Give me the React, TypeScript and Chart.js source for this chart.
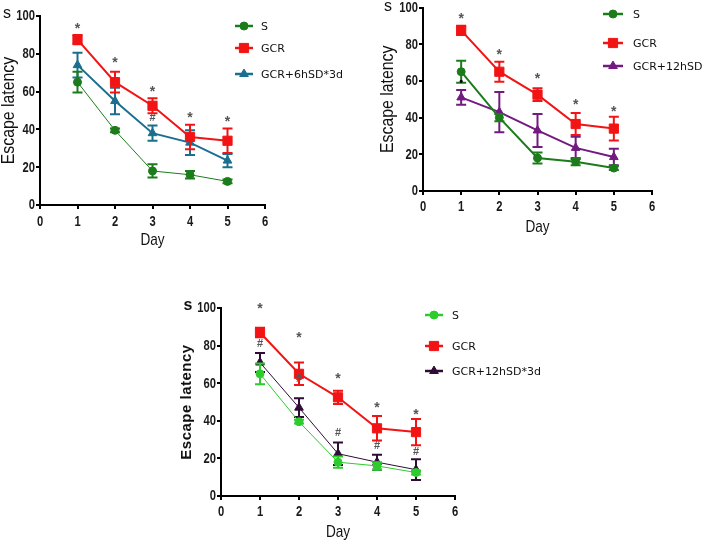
import React, { useEffect, useRef } from "react";
import { Chart, registerables } from "chart.js";
import { drawPoint } from "chart.js/helpers";

Chart.register(...registerables);

// ---------- data ----------
const days = [1, 2, 3, 4, 5];
const seriesNames1 = ["S", "GCR", "GCR+6hSD*3d"];
const seriesNames2 = ["S", "GCR", "GCR+12hSD"];
const seriesNames3 = ["S", "GCR", "GCR+12hSD*3d"];

// panel 1 (top-left)
const p1S = [65, 39.5, 18, 16, 12.5];
const p1SErr = [5.5, 1, 3.5, 2, 1];
const p1GCR = [87.5, 65, 52.5, 36, 34];
const p1GCRErr = [2.5, 5.5, 4, 6.5, 6.5];
const p1SD = [74, 55, 38, 33, 23.5];
const p1SDErr = [6.5, 7, 4, 6.5, 3.5];
const p1Star = [94, 76, 61, 47, 45];
const p1HashDays = [3];
const p1Hash = [46];

// panel 2 (top-right)
const p2S = [65, 40, 18, 16, 12.5];
const p2SErr = [6, 2, 3, 2, 1];
const p2GCR = [87.5, 65, 52.5, 36.5, 34];
const p2GCRErr = [2.5, 5.5, 3.5, 6, 6.5];
const p2SD = [51, 43, 33, 23.5, 18.5];
const p2SDErr = [4, 11, 9, 6, 4.5];
const p2Star = [95, 75, 62, 48, 44];
const p2DotDays = [1];
const p2Dot = [59.5];

// panel 3 (bottom)
const p3S = [65, 39.5, 18, 16, 12.5];
const p3SErr = [5.5, 1, 3, 2, 1];
const p3GCR = [87, 65, 52.5, 36, 34];
const p3GCRErr = [2.5, 6, 3.5, 6.5, 7];
const p3SD = [71, 47, 22.5, 18, 14];
const p3SDErr = [5, 5, 6, 4, 5.5];
const p3Star = [100.5, 85, 63, 48, 44];
const p3Hash = [81, 62, 33.5, 26.5, 23.5];

const xTickMin = 0;
const xTickMax = 6;
const yTickMin = 0;
const yTickMax = 100;
const yTickStep = 20;

// ---------- helpers ----------
const SANS = "'Liberation Sans', Arial, sans-serif";
const LEG = "'DejaVu Sans', 'Liberation Sans', sans-serif";

type Mark = { x: number; y: number; text: string; color?: string };
type Spec = {
  left: number; top: number; width: number; height: number;
  pad: { top: number; right: number; left: number };
  yWidth: number; xHeight: number;
  series: { label: string; values: number[]; errors: number[]; color: string; style: string; radius: number; lw: number }[];
  marks: Mark[];
  legend: { x0: number; x1: number; tx: number; ys: number[] };
  yTitleX: number; xTitleY: number; sX: number; sY: number; titleBold: boolean; xLabelOff: number;
};

function narrowText(ctx: CanvasRenderingContext2D, text: string, x: number, y: number, sx: number) {
  ctx.save();
  ctx.translate(x, y);
  ctx.scale(sx, 1);
  ctx.fillText(text, 0, 0);
  ctx.restore();
}

const figurePlugin = {
  id: "figure",
  afterDatasetDraw(chart: any, args: any) {
    const ds = chart.data.datasets[args.index];
    const yS = chart.scales.y;
    const ctx = chart.ctx;
    ctx.save();
    ctx.strokeStyle = ds.borderColor;
    ctx.lineWidth = 2;
    args.meta.data.forEach((pt: any, i: number) => {
      const v = ds.data[i].y;
      const e = ds.errors[i];
      const yt = yS.getPixelForValue(v + e);
      const yb = yS.getPixelForValue(v - e);
      ctx.beginPath();
      ctx.moveTo(pt.x, yt); ctx.lineTo(pt.x, yb);
      ctx.moveTo(pt.x - 5, yt); ctx.lineTo(pt.x + 5, yt);
      ctx.moveTo(pt.x - 5, yb); ctx.lineTo(pt.x + 5, yb);
      ctx.stroke();
    });
    ctx.restore();
  },
  afterDraw(chart: any, _a: any, opts: any) {
    const spec: Spec = opts.spec;
    const ctx = chart.ctx;
    const ca = chart.chartArea;
    const xS = chart.scales.x, yS = chart.scales.y;
    const ox = spec.left, oy = spec.top;
    ctx.save();
    // tick labels (narrow), positioned by the scales
    ctx.fillStyle = "#1a1a1a";
    ctx.font = `bold 14px ${SANS}`;
    ctx.textBaseline = "middle";
    ctx.textAlign = "right";
    yS.ticks.forEach((t: any) => {
      narrowText(ctx, String(t.value), ca.left - 5, yS.getPixelForValue(t.value) + 0.5, 0.8);
    });
    ctx.textAlign = "center";
    xS.ticks.forEach((t: any) => {
      narrowText(ctx, String(t.value), xS.getPixelForValue(t.value), ca.bottom + spec.xLabelOff, 0.8);
    });
    // marks (* and #)
    spec.marks.forEach((m) => {
      ctx.fillStyle = m.color || "#555";
      ctx.font = m.text === "*" ? `bold 14px ${SANS}` : `bold 11px ${SANS}`;
      ctx.fillText(m.text, xS.getPixelForValue(m.x), yS.getPixelForValue(m.y) + (m.text === "*" ? 2 : 0));
    });
    // unit "s"
    ctx.fillStyle = "#111";
    ctx.font = `${spec.titleBold ? "bold " : ""}16px ${SANS}`;
    ctx.fillText("s", spec.sX - ox, spec.sY - oy);
    // y title
    ctx.save();
    ctx.translate(spec.yTitleX - ox, (ca.top + ca.bottom) / 2);
    ctx.rotate(-Math.PI / 2);
    if (spec.titleBold) {
      ctx.font = `bold 15px ${SANS}`;
      (ctx as any).letterSpacing = "0.5px";
      ctx.fillText("Escape latency", 0, 0);
    } else {
      ctx.font = `18px ${SANS}`;
      narrowText(ctx, "Escape latency", 0, 0, 0.88);
    }
    ctx.restore();
    // x title
    ctx.font = `17px ${SANS}`;
    narrowText(ctx, "Day", (ca.left + ca.right) / 2, spec.xTitleY - oy, 0.8);
    // legend
    const lg = spec.legend;
    spec.series.forEach((s, i) => {
      const y = lg.ys[i] - oy;
      ctx.strokeStyle = s.color;
      ctx.fillStyle = s.color;
      ctx.lineWidth = 2.5;
      ctx.beginPath();
      ctx.moveTo(lg.x0 - ox, y); ctx.lineTo(lg.x1 - ox, y);
      ctx.stroke();
      ctx.lineWidth = 1;
      drawPoint(ctx, { pointStyle: s.style, radius: s.radius, rotation: 0, borderWidth: 1 } as any, (lg.x0 + lg.x1) / 2 - ox, y);
      ctx.fillStyle = "#111";
      ctx.font = `11px ${LEG}`;
      ctx.textAlign = "left";
      ctx.fillText(s.label, lg.tx - ox, y + 1);
    });
    ctx.restore();
  },
};

function makeConfig(spec: Spec): any {
  const axisCommon = {
    grid: { drawOnChartArea: false, drawTicks: true, tickLength: 4, color: "#000", lineWidth: 2 },
    border: { color: "#000", width: 2 },
  };
  return {
    type: "line",
    data: {
      datasets: spec.series.map((s) => ({
        label: s.label,
        data: days.map((d, i) => ({ x: d, y: s.values[i] })),
        errors: s.errors,
        borderColor: s.color,
        backgroundColor: s.color,
        borderWidth: s.lw,
        pointStyle: s.style,
        pointRadius: s.radius,
        pointBorderWidth: 1,
        pointBackgroundColor: s.color,
        pointBorderColor: s.color,
        tension: 0,
        fill: false,
      })),
    },
    options: {
      responsive: false,
      animation: false,
      events: [],
      layout: { padding: { top: spec.pad.top, right: spec.pad.right, left: spec.pad.left, bottom: 0 } },
      plugins: { legend: { display: false }, tooltip: { enabled: false }, figure: { spec } },
      scales: {
        x: {
          type: "linear",
          min: xTickMin,
          max: xTickMax,
          ...axisCommon,
          ticks: { stepSize: 1, display: false },
          afterFit: (s: any) => { s.height = spec.xHeight; },
        },
        y: {
          type: "linear",
          min: yTickMin,
          max: yTickMax,
          ...axisCommon,
          ticks: { stepSize: yTickStep, display: false },
          afterFit: (s: any) => { s.width = spec.yWidth; },
        },
      },
    },
    plugins: [figurePlugin],
  };
}

const spec1: Spec = {
  left: 0, top: 0, width: 360, height: 255,
  pad: { top: 16, right: 95, left: 0 }, yWidth: 40, xHeight: 50,
  series: [
    { label: seriesNames1[0], values: p1S, errors: p1SErr, color: "#1c7c1c", style: "circle", radius: 4, lw: 1 },
    { label: seriesNames1[1], values: p1GCR, errors: p1GCRErr, color: "#f21414", style: "rect", radius: 6.5, lw: 2 },
    { label: seriesNames1[2], values: p1SD, errors: p1SDErr, color: "#1b6f8e", style: "triangle", radius: 5, lw: 2 },
  ],
  marks: [
    ...days.map((d, i) => ({ x: d, y: p1Star[i], text: "*" })),
    ...p1HashDays.map((d, i) => ({ x: d, y: p1Hash[i], text: "#" })),
  ],
  legend: { x0: 235, x1: 253, tx: 261, ys: [26, 48, 74] },
  yTitleX: 9, xTitleY: 240, sX: 7, sY: 14, titleBold: false, xLabelOff: 17,
};

const spec2: Spec = {
  left: 360, top: 0, width: 342, height: 245,
  pad: { top: 6, right: 50, left: 0 }, yWidth: 63, xHeight: 54,
  series: [
    { label: seriesNames2[0], values: p2S, errors: p2SErr, color: "#1c7c1c", style: "circle", radius: 4, lw: 2 },
    { label: seriesNames2[1], values: p2GCR, errors: p2GCRErr, color: "#f21414", style: "rect", radius: 6.5, lw: 2 },
    { label: seriesNames2[2], values: p2SD, errors: p2SDErr, color: "#731a80", style: "triangle", radius: 5, lw: 2 },
  ],
  marks: [
    ...days.map((d, i) => ({ x: d, y: p2Star[i], text: "*" })),
    ...p2DotDays.map((d, i) => ({ x: d, y: p2Dot[i], text: "•", color: "#000" })),
  ],
  legend: { x0: 603, x1: 623, tx: 633, ys: [14, 43, 66] },
  yTitleX: 388, xTitleY: 227, sX: 388, sY: 7, titleBold: false, xLabelOff: 16,
};

const spec3: Spec = {
  left: 180, top: 260, width: 370, height: 281,
  pad: { top: 48, right: 95, left: 0 }, yWidth: 41, xHeight: 45,
  series: [
    { label: seriesNames3[0], values: p3S, errors: p3SErr, color: "#2ccc2c", style: "circle", radius: 4, lw: 1 },
    { label: seriesNames3[1], values: p3GCR, errors: p3GCRErr, color: "#f21414", style: "rect", radius: 6.5, lw: 2 },
    { label: seriesNames3[2], values: p3SD, errors: p3SDErr, color: "#2f0c35", style: "triangle", radius: 5, lw: 1 },
  ],
  marks: [
    ...days.map((d, i) => ({ x: d, y: p3Star[i], text: "*" })),
    ...days.map((d, i) => ({ x: d, y: p3Hash[i], text: "#" })),
  ],
  legend: { x0: 425, x1: 443, tx: 452, ys: [315, 346, 371] },
  yTitleX: 187, xTitleY: 532, sX: 188, sY: 306, titleBold: true, xLabelOff: 16,
};

function Panel({ spec }: { spec: Spec }) {
  const ref = useRef<HTMLCanvasElement>(null);
  useEffect(() => {
    if (!ref.current) return;
    const chart = new Chart(ref.current, makeConfig(spec));
    return () => chart.destroy();
  }, [spec]);
  return (
    <canvas
      ref={ref}
      width={spec.width}
      height={spec.height}
      style={{ position: "absolute", left: spec.left, top: spec.top, width: spec.width, height: spec.height }}
    />
  );
}

export default function App() {
  return (
    <div style={{ position: "absolute", left: 0, top: 0, width: 702, height: 541, background: "#fff", overflow: "hidden" }}>
      <Panel spec={spec1} />
      <Panel spec={spec2} />
      <Panel spec={spec3} />
    </div>
  );
}
